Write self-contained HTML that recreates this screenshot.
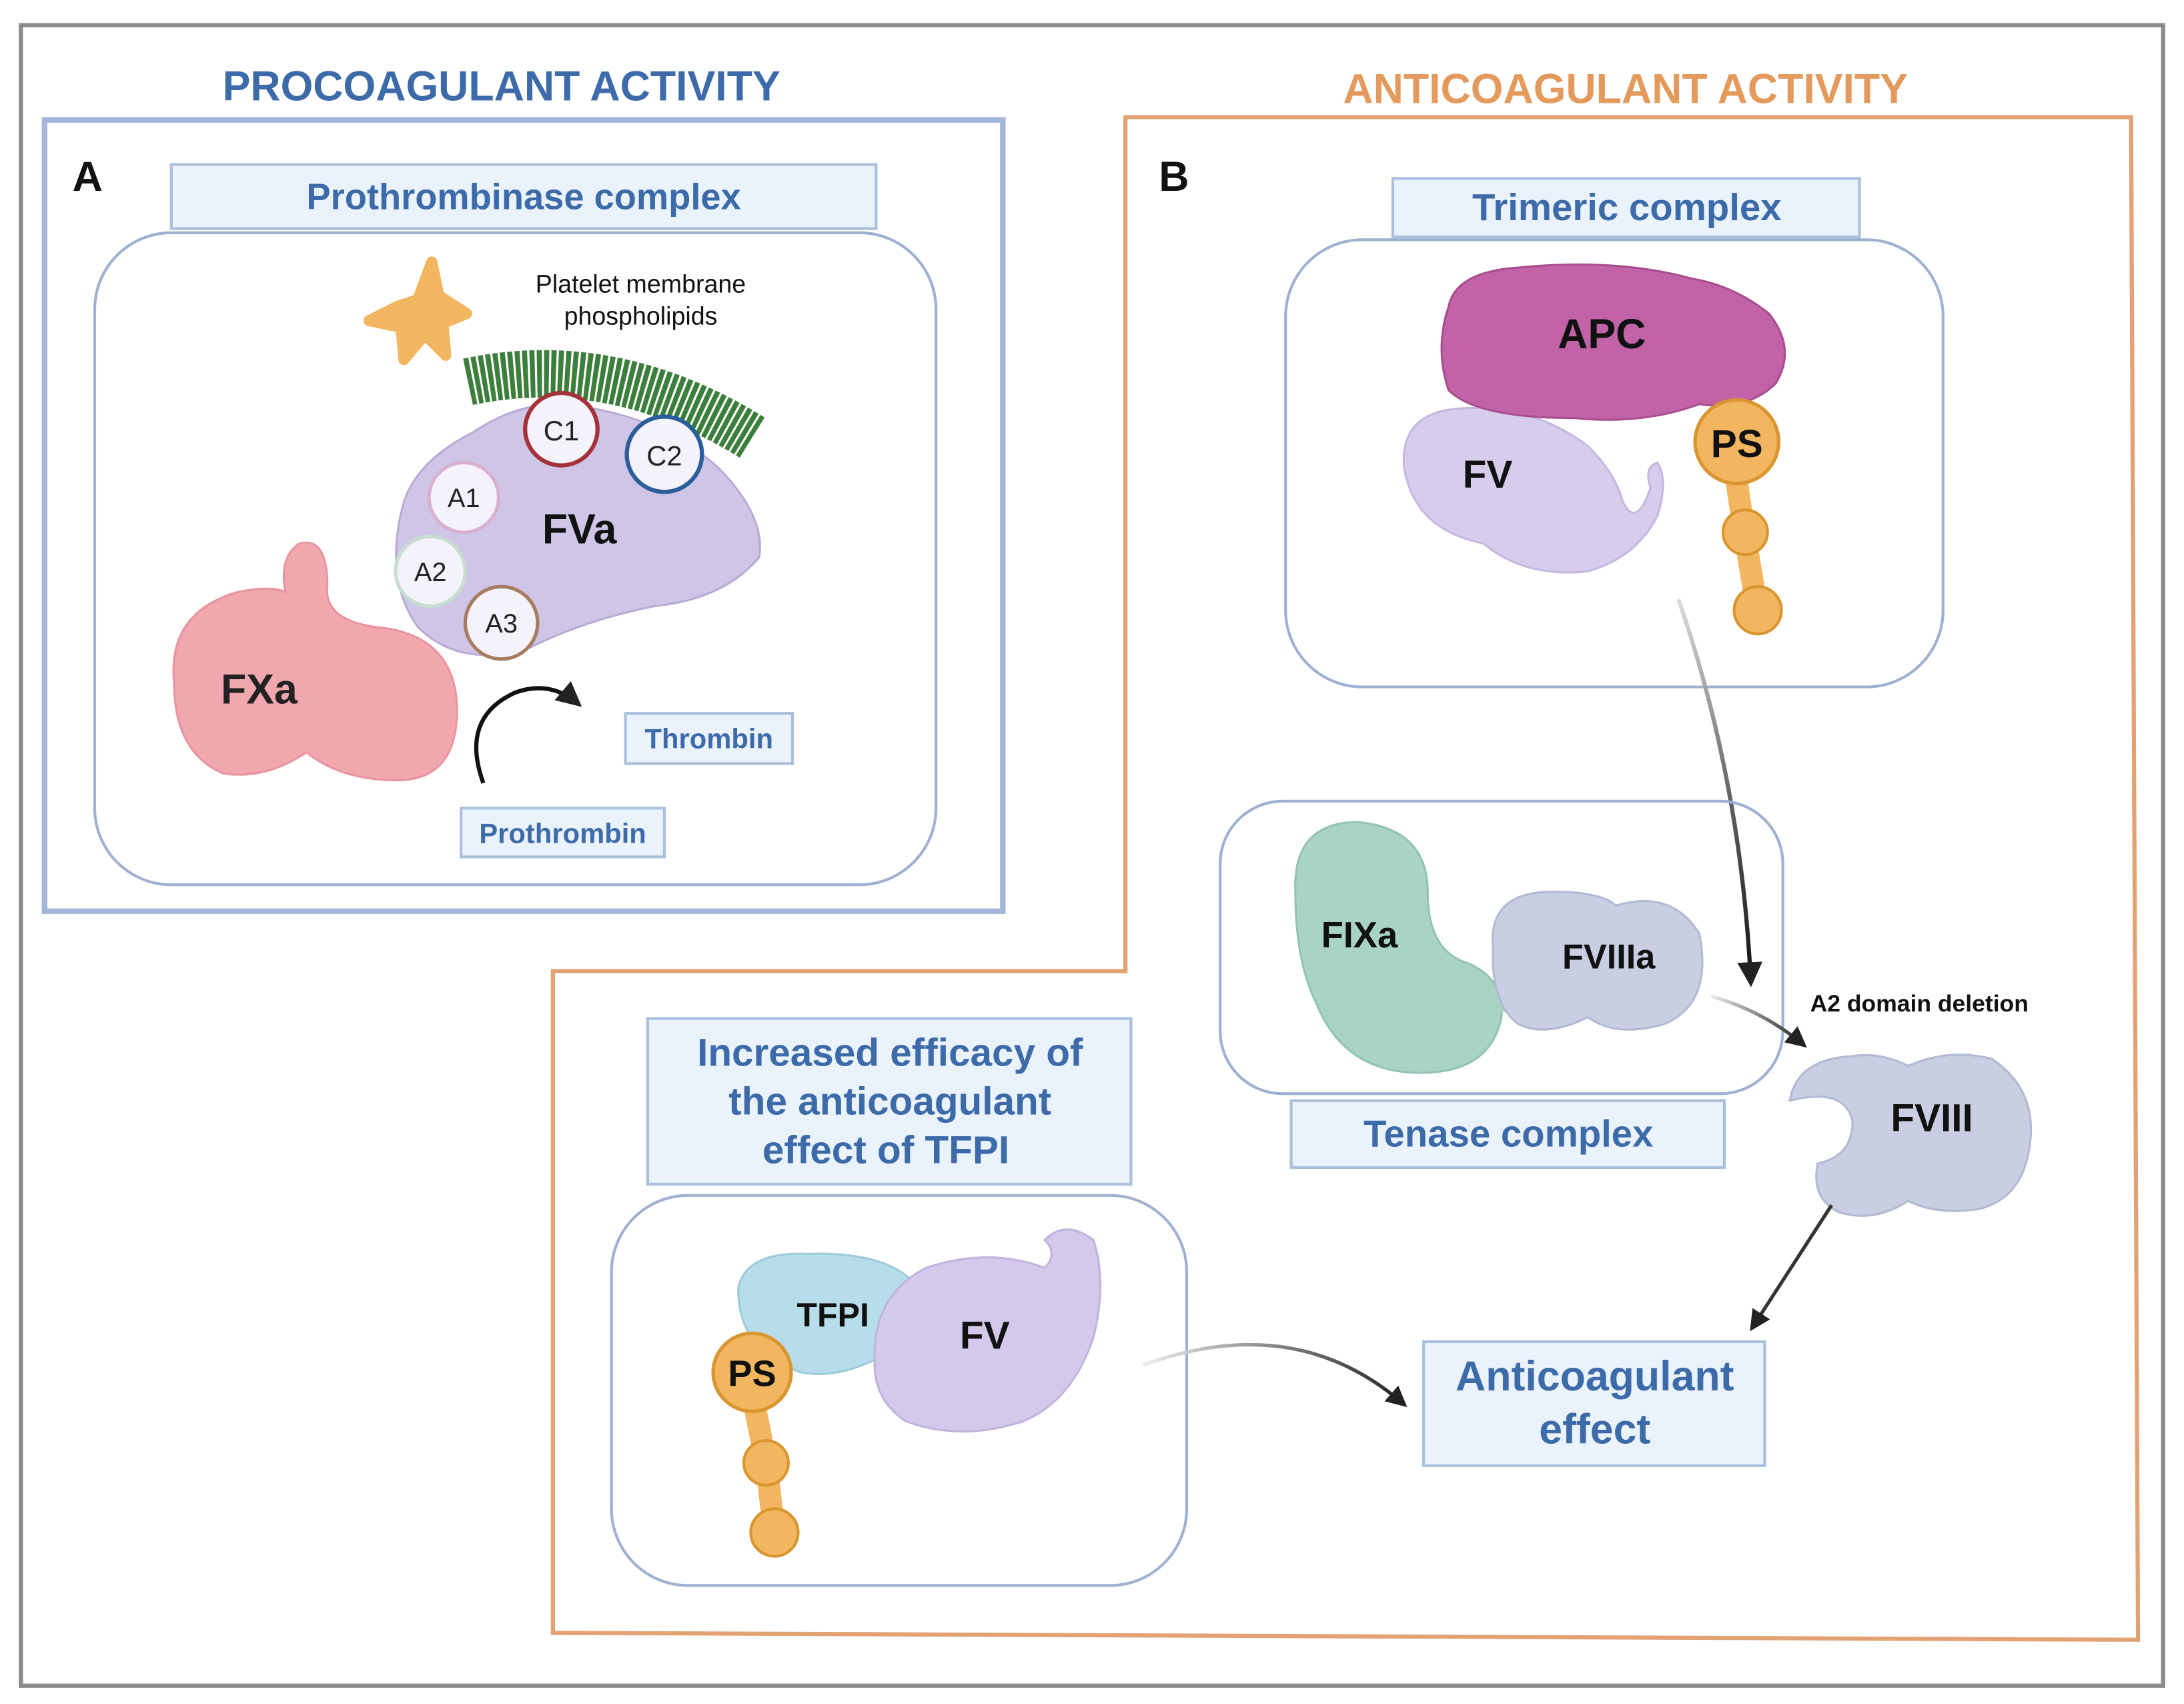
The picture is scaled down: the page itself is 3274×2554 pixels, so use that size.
<!DOCTYPE html>
<html><head><meta charset="utf-8"><style>
html,body{margin:0;padding:0;background:#fff;}
svg{display:block;}
text{font-family:"Liberation Sans",sans-serif;}
</style></head><body>
<svg width="3274" height="2554" viewBox="0 0 1568 1223" xmlns="http://www.w3.org/2000/svg">
<defs>
<marker id="ah" viewBox="0 0 10 10" refX="8" refY="5" markerWidth="6" markerHeight="6" orient="auto"><path d="M0,0 L10,5 L0,10 z" fill="#222"/></marker>
<linearGradient id="g1" x1="0" y1="0" x2="0" y2="1"><stop offset="0" stop-color="#ddd"/><stop offset="0.5" stop-color="#666"/><stop offset="1" stop-color="#111"/></linearGradient>
<linearGradient id="g2" x1="0" y1="0" x2="1" y2="0"><stop offset="0" stop-color="#eee"/><stop offset="1" stop-color="#222"/></linearGradient>
</defs>
<rect width="1568" height="1223" fill="#fff"/>
<rect x="15" y="18" width="1538" height="1192" fill="none" stroke="#8a8a8a" stroke-width="3"/>

<!-- Panel A -->
<text x="360" y="72" font-size="30" font-weight="bold" fill="#3d6aa9" text-anchor="middle">PROCOAGULANT ACTIVITY</text>
<rect x="32" y="86" width="688" height="568" fill="none" stroke="#a3b5d8" stroke-width="4"/>
<text x="52" y="137" font-size="30" font-weight="bold" fill="#111">A</text>
<rect x="123" y="118" width="506" height="46" fill="#eaf2fb" stroke="#a9c0dc" stroke-width="2"/>
<text x="376" y="150" font-size="26" font-weight="bold" fill="#3d6aa9" text-anchor="middle">Prothrombinase complex</text>
<rect x="68" y="167" width="604" height="468" rx="55" fill="none" stroke="#9fb0d0" stroke-width="2"/>

<!-- platelet -->
<path d="M300,215 L310,188 L315,212 L335,225 L318,232 L320,255 L305,240 L290,258 L288,235 L265,230 L285,220 Z" fill="#f2b560" stroke="#f2b560" stroke-width="8" stroke-linejoin="round"/>
<text x="460" y="210" font-size="18" fill="#111" text-anchor="middle">Platelet membrane</text>
<text x="460" y="233" font-size="18" fill="#111" text-anchor="middle">phospholipids</text>
<!-- membrane -->
<path d="M336,274 Q440,252 540,314" fill="none" stroke="#3c7f3c" stroke-width="34" stroke-dasharray="3.5 1.5"/>

<!-- FVa -->
<path d="M290,360 Q300,330 340,310 Q370,290 400,290 Q470,295 515,335 Q550,370 545,400 Q520,430 470,435 Q420,445 380,465 Q330,480 300,450 Q275,415 290,360 Z" fill="#cfc5e6" stroke="#b8acd6" stroke-width="1.5"/>
<circle cx="403" cy="308" r="26" fill="#f4f2fa" stroke="#a3323a" stroke-width="3"/>
<text x="403" y="316" font-size="20" fill="#222" text-anchor="middle">C1</text>
<circle cx="477" cy="326" r="27" fill="#f4f2fa" stroke="#2b5d9a" stroke-width="3"/>
<text x="477" y="334" font-size="20" fill="#222" text-anchor="middle">C2</text>
<circle cx="333" cy="357" r="25" fill="#f4f2fa" stroke="#d9b0cf" stroke-width="2.5"/>
<text x="333" y="364" font-size="19" fill="#222" text-anchor="middle">A1</text>
<circle cx="309" cy="410" r="25" fill="#f4f2fa" stroke="#c6ddd0" stroke-width="2.5"/>
<text x="309" y="417" font-size="19" fill="#222" text-anchor="middle">A2</text>
<circle cx="360" cy="447" r="26" fill="#f4f2fa" stroke="#a77c60" stroke-width="2.5"/>
<text x="360" y="454" font-size="19" fill="#222" text-anchor="middle">A3</text>
<text x="416" y="390" font-size="30" font-weight="bold" fill="#111" text-anchor="middle">FVa</text>

<!-- FXa -->
<path d="M125,490 Q120,440 170,425 Q195,420 205,425 Q200,400 215,390 Q235,385 235,420 Q232,445 270,450 Q325,455 328,505 Q330,560 285,560 Q245,560 220,540 Q190,560 160,555 Q125,540 125,490 Z" fill="#f1a7ae" stroke="#e895a0" stroke-width="1.5"/>
<text x="186" y="505" font-size="30" font-weight="bold" fill="#222" text-anchor="middle">FXa</text>

<path d="M347,562 Q330,515 370,497 Q395,488 415,505" fill="none" stroke="#111" stroke-width="3" marker-end="url(#ah)"/>
<rect x="449" y="512" width="120" height="36" fill="#eaf2fb" stroke="#a9c0dc" stroke-width="2"/>
<text x="509" y="537" font-size="20" font-weight="bold" fill="#3d6aa9" text-anchor="middle">Thrombin</text>
<rect x="331" y="580" width="146" height="35" fill="#eaf2fb" stroke="#a9c0dc" stroke-width="2"/>
<text x="404" y="605" font-size="20" font-weight="bold" fill="#3d6aa9" text-anchor="middle">Prothrombin</text>

<!-- Panel B -->
<text x="1167" y="74" font-size="30" font-weight="bold" fill="#e49a5c" text-anchor="middle">ANTICOAGULANT ACTIVITY</text>
<path d="M808,84 L1530,84 L1535,1177 L397,1172 L397,697 L808,697 Z" fill="none" stroke="#e2a273" stroke-width="3"/>
<text x="832" y="137" font-size="30" font-weight="bold" fill="#111">B</text>
<rect x="1000" y="128" width="335" height="42" fill="#eaf2fb" stroke="#a9c0dc" stroke-width="2"/>
<text x="1168" y="158" font-size="27" font-weight="bold" fill="#3d6aa9" text-anchor="middle">Trimeric complex</text>
<rect x="923" y="172" width="472" height="321" rx="55" fill="none" stroke="#9fb0d0" stroke-width="2"/>

<!-- FV trimeric -->
<path d="M1008,335 Q1005,295 1050,293 Q1100,290 1140,320 Q1160,340 1165,360 Q1175,380 1185,350 Q1180,335 1190,332 Q1198,345 1190,370 Q1175,400 1140,410 Q1095,415 1065,390 Q1015,380 1008,335 Z" fill="#d6cdec" stroke="#c4b8e0" stroke-width="1.5"/>
<text x="1068" y="350" font-size="28" font-weight="bold" fill="#111" text-anchor="middle">FV</text>
<!-- APC -->
<path d="M1040,220 Q1045,195 1090,192 Q1160,185 1215,200 Q1245,205 1270,225 Q1290,250 1275,275 Q1255,295 1220,290 Q1180,305 1130,300 Q1060,300 1040,280 Q1030,250 1040,220 Z" fill="#c163a6" stroke="#a84e8f" stroke-width="1.5"/>
<text x="1150" y="250" font-size="30" font-weight="bold" fill="#111" text-anchor="middle">APC</text>
<!-- PS trimeric -->
<path d="M1246,340 L1252,380 L1262,440" fill="none" stroke="#f2b560" stroke-width="16" stroke-linecap="round"/>
<circle cx="1253" cy="382" r="16" fill="#f2b560" stroke="#d9952f" stroke-width="2"/>
<circle cx="1262" cy="438" r="17" fill="#f2b560" stroke="#d9952f" stroke-width="2"/>
<circle cx="1247" cy="317" r="30" fill="#f2b560" stroke="#d9952f" stroke-width="2.5"/>
<text x="1247" y="328" font-size="28" font-weight="bold" fill="#111" text-anchor="middle">PS</text>

<path d="M1205,430 Q1250,560 1257,705" fill="none" stroke="url(#g1)" stroke-width="3" marker-end="url(#ah)"/>

<!-- Tenase -->
<rect x="876" y="575" width="404" height="210" rx="45" fill="none" stroke="#9fb0d0" stroke-width="2"/>
<path d="M930,640 Q928,590 975,590 Q1025,595 1025,640 Q1025,680 1050,690 Q1080,700 1078,730 Q1070,770 1020,770 Q965,770 945,720 Q930,690 930,640 Z" fill="#a9d4c4" stroke="#92c4b2" stroke-width="1.5"/>
<circle cx="1083" cy="717" r="10" fill="#a9d4c4"/>
<text x="976" y="680" font-size="26" font-weight="bold" fill="#111" text-anchor="middle">FIXa</text>
<path d="M1072,680 Q1068,640 1115,640 Q1150,640 1160,650 Q1200,638 1220,670 Q1230,720 1195,735 Q1160,745 1140,730 Q1110,745 1090,735 Q1070,720 1072,680 Z" fill="#cacee2" stroke="#b4b9d3" stroke-width="1.5"/>
<text x="1155" y="695" font-size="25" font-weight="bold" fill="#111" text-anchor="middle">FVIIIa</text>
<rect x="927" y="790" width="311" height="48" fill="#eaf2fb" stroke="#a9c0dc" stroke-width="2"/>
<text x="1083" y="823" font-size="27" font-weight="bold" fill="#3d6aa9" text-anchor="middle">Tenase complex</text>

<text x="1378" y="726" font-size="17" font-weight="bold" fill="#111" text-anchor="middle">A2 domain deletion</text>
<path d="M1228,715 Q1265,725 1295,750" fill="none" stroke="url(#g2)" stroke-width="2.5" marker-end="url(#ah)"/>

<!-- FVIII -->
<path d="M1285,790 Q1290,760 1330,758 Q1350,755 1370,765 Q1400,752 1430,760 Q1460,780 1458,815 Q1455,860 1420,868 Q1390,872 1370,862 Q1345,878 1320,870 Q1300,860 1305,835 Q1330,830 1330,805 Q1325,780 1285,790 Z" fill="#cacee2" stroke="#b4b9d3" stroke-width="1.5"/>
<text x="1387" y="812" font-size="28" font-weight="bold" fill="#111" text-anchor="middle">FVIII</text>
<path d="M1315,865 L1258,953" fill="none" stroke="#333" stroke-width="2.5" marker-end="url(#ah)"/>

<rect x="1022" y="963" width="245" height="89" fill="#eaf2fb" stroke="#a9c0dc" stroke-width="2"/>
<text x="1145" y="998" font-size="30" font-weight="bold" fill="#3d6aa9" text-anchor="middle">Anticoagulant</text>
<text x="1145" y="1036" font-size="30" font-weight="bold" fill="#3d6aa9" text-anchor="middle">effect</text>

<!-- TFPI panel -->
<rect x="465" y="731" width="347" height="119" fill="#eaf2fb" stroke="#a9c0dc" stroke-width="2"/>
<text x="639" y="765" font-size="28" font-weight="bold" fill="#3d6aa9" text-anchor="middle">Increased efficacy of</text>
<text x="639" y="800" font-size="28" font-weight="bold" fill="#3d6aa9" text-anchor="middle">the anticoagulant</text>
<text x="636" y="835" font-size="28" font-weight="bold" fill="#3d6aa9" text-anchor="middle">effect of TFPI</text>
<rect x="439" y="858" width="413" height="280" rx="55" fill="none" stroke="#9fb0d0" stroke-width="2"/>

<path d="M530,925 Q535,898 580,900 Q640,898 660,925 Q665,960 630,975 Q600,990 575,985 Q530,970 530,925 Z" fill="#b6dde9" stroke="#9ccbdb" stroke-width="1.5"/>
<text x="598" y="952" font-size="24" font-weight="bold" fill="#111" text-anchor="middle">TFPI</text>
<path d="M628,980 Q625,930 665,910 Q710,895 750,910 Q760,900 750,890 Q765,875 785,890 Q795,920 785,960 Q770,1005 735,1020 Q690,1035 650,1020 Q628,1005 628,980 Z" fill="#d3c9ea" stroke="#c0b4df" stroke-width="1.5"/>
<text x="707" y="968" font-size="28" font-weight="bold" fill="#111" text-anchor="middle">FV</text>
<path d="M542,1010 L550,1050 L556,1100" fill="none" stroke="#f2b560" stroke-width="16" stroke-linecap="round"/>
<circle cx="550" cy="1050" r="16" fill="#f2b560" stroke="#d9952f" stroke-width="2"/>
<circle cx="556" cy="1100" r="17" fill="#f2b560" stroke="#d9952f" stroke-width="2"/>
<circle cx="540" cy="985" r="28" fill="#f2b560" stroke="#d9952f" stroke-width="2.5"/>
<text x="540" y="995" font-size="26" font-weight="bold" fill="#111" text-anchor="middle">PS</text>

<path d="M820,980 Q930,940 1008,1008" fill="none" stroke="url(#g2)" stroke-width="2.5" marker-end="url(#ah)"/>
</svg>
</body></html>
